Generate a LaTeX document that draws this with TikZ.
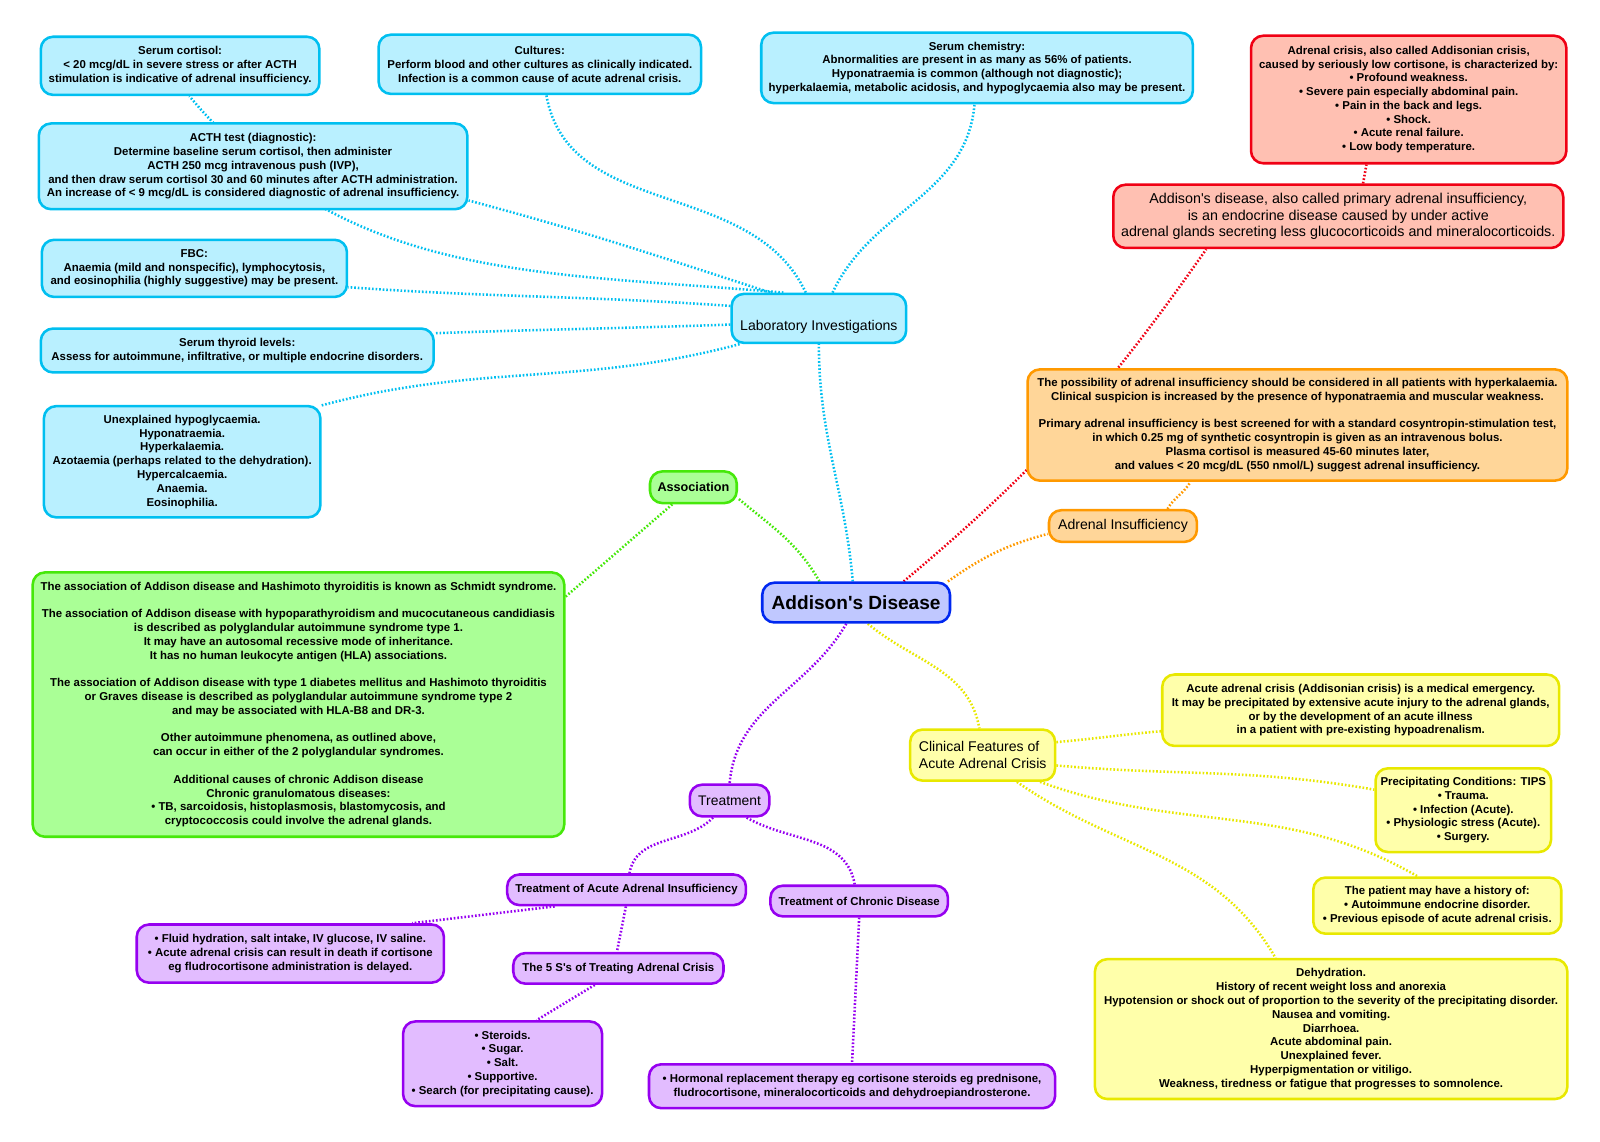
\documentclass[tikz,border=0pt]{standalone}
\usepackage{fontspec}
\setmainfont{Liberation Sans}
\usepackage{tikz}
\usetikzlibrary{backgrounds}

\definecolor{labfill}{RGB}{185,240,255}
\definecolor{labdraw}{RGB}{0,191,240}
\definecolor{assocfill}{RGB}{170,255,150}
\definecolor{assocdraw}{RGB}{70,232,10}
\definecolor{redfill}{RGB}{255,192,178}
\definecolor{reddraw}{RGB}{240,0,20}
\definecolor{orfill}{RGB}{255,214,153}
\definecolor{ordraw}{RGB}{255,153,0}
\definecolor{yelfill}{RGB}{255,255,170}
\definecolor{yeldraw}{RGB}{232,232,0}
\definecolor{purfill}{RGB}{226,188,255}
\definecolor{purdraw}{RGB}{150,0,240}
\definecolor{rootfill}{RGB}{192,200,255}
\definecolor{rootdraw}{RGB}{0,40,240}

\tikzset{
  box/.style={draw, line width=2.5pt, rounded corners=12pt, align=center, inner sep=2pt},
  leaf/.style={font=\bfseries\fontsize{11.2}{13.5}\selectfont},
  hub/.style={font=\fontsize{13.8}{16}\selectfont},
  link/.style={line width=2.5pt, dash pattern=on 1.6pt off 1.9pt},
}

\begin{document}
\begin{tikzpicture}[x=1pt,y=1pt]
        \useasboundingbox (0,0) rectangle (1568,-1119);
        % centre
        \node[box, draw=rootdraw, fill=rootfill, font=\bfseries\fontsize{18.7}{22}\selectfont,
              minimum width=184, minimum height=39] (root) at (839,-590.5) {Addison\textquotesingle s Disease};
        % laboratory investigations
        \begin{scope}[every node/.style={box, leaf, draw=labdraw, fill=labfill}]
          \node[hub, minimum width=171, minimum height=48] (lab) at (802.5,-312) {\rule{0pt}{27pt}Laboratory Investigations};
          \node[minimum width=273, minimum height=57] (cort) at (176.5,-64.5) {Serum cortisol:\\
            < 20 mcg/dL in severe stress or after ACTH\\
            stimulation is indicative of adrenal insufficiency.};
          \node[minimum width=316, minimum height=58] (cult) at (529,-63) {Cultures:\\
            Perform blood and other cultures as clinically indicated.\\
            Infection is a common cause of acute adrenal crisis.};
          \node[minimum width=423, minimum height=69] (chem) at (957.5,-66.5) {Serum chemistry:\\
            Abnormalities are present in as many as 56\% of patients.\\
            Hyponatraemia is common (although not diagnostic);\\
            hyperkalaemia, metabolic acidosis, and hypoglycaemia also may be present.};
          \node[minimum width=420, minimum height=84] (acth) at (248,-163) {ACTH test (diagnostic):\\
            Determine baseline serum cortisol, then administer\\
            ACTH 250 mcg intravenous push (IVP),\\
            and then draw serum cortisol 30 and 60 minutes after ACTH administration.\\
            An increase of < 9 mcg/dL is considered diagnostic of adrenal insufficiency.};
          \node[minimum width=299, minimum height=56] (fbc) at (190.5,-263) {FBC:\\
            Anaemia (mild and nonspecific), lymphocytosis,\\
            and eosinophilia (highly suggestive) may be present.};
          \node[minimum width=385, minimum height=43] (thyr) at (232.5,-343.5) {Serum thyroid levels:\\
            Assess for autoimmune, infiltrative, or multiple endocrine disorders.};
          \node[minimum width=271, minimum height=109] (unexp) at (178.5,-452.5) {Unexplained hypoglycaemia.\\
            Hyponatraemia.\\ Hyperkalaemia.\\
            Azotaemia (perhaps related to the dehydration).\\
            Hypercalcaemia.\\ Anaemia.\\ Eosinophilia.};
        \end{scope}
        % addison's disease definition
        \begin{scope}[every node/.style={box, leaf, draw=reddraw, fill=redfill}]
          \node[font=\fontsize{14}{16}\selectfont, minimum width=441, minimum height=62] (defn) at (1311.5,-212) {Addison\textquotesingle s disease, also called primary adrenal insufficiency,\\
            is an endocrine disease caused by under active\\
            adrenal glands secreting less glucocorticoids and mineralocorticoids.};
          \node[minimum width=309, minimum height=125] (crisis) at (1380.5,-97.5) {Adrenal crisis, also called Addisonian crisis,\\
            caused by seriously low cortisone, is characterized by:\\
            • Profound weakness.\\
            • Severe pain especially abdominal pain.\\
            • Pain in the back and legs.\\
            • Shock.\\
            • Acute renal failure.\\
            • Low body temperature.};
        \end{scope}
        % adrenal insufficiency
        \begin{scope}[every node/.style={box, leaf, draw=ordraw, fill=orfill}]
          \node[hub, minimum width=145, minimum height=31] (adins) at (1100.5,-515.5) {Adrenal Insufficiency};
          \node[minimum width=529, minimum height=109] (poss) at (1271.5,-416.5) {The possibility of adrenal insufficiency should be considered in all patients with hyperkalaemia.\\
            Clinical suspicion is increased by the presence of hyponatraemia and muscular weakness.\\[13.5pt]
            Primary adrenal insufficiency is best screened for with a standard cosyntropin-stimulation test,\\
            in which 0.25 mg of synthetic cosyntropin is given as an intravenous bolus.\\
            Plasma cortisol is measured 45-60 minutes later,\\
            and values < 20 mcg/dL (550 nmol/L) suggest adrenal insufficiency.};
        \end{scope}
        % association
        \begin{scope}[every node/.style={box, leaf, draw=assocdraw, fill=assocfill}]
          \node[font=\bfseries\fontsize{12.4}{15}\selectfont, minimum width=85, minimum height=31] (assoc) at (679.5,-477.5) {Association};
          \node[minimum width=521, minimum height=259] (assocs) at (292.5,-690.5) {The association of Addison disease and Hashimoto thyroiditis is known as Schmidt syndrome.\\[13.5pt]
            The association of Addison disease with hypoparathyroidism and mucocutaneous candidiasis\\
            is described as polyglandular autoimmune syndrome type 1.\\
            It may have an autosomal recessive mode of inheritance.\\
            It has no human leukocyte antigen (HLA) associations.\\[13.5pt]
            The association of Addison disease with type 1 diabetes mellitus and Hashimoto thyroiditis\\
            or Graves disease is described as polyglandular autoimmune syndrome type 2\\
            and may be associated with HLA-B8 and DR-3.\\[13.5pt]
            Other autoimmune phenomena, as outlined above,\\
            can occur in either of the 2 polyglandular syndromes.\\[13.5pt]
            Additional causes of chronic Addison disease\\
            Chronic granulomatous diseases:\\
            • TB, sarcoidosis, histoplasmosis, blastomycosis, and\\
            cryptococcosis could involve the adrenal glands.};
        \end{scope}
        % clinical features
        \begin{scope}[every node/.style={box, leaf, draw=yeldraw, fill=yelfill}]
          \node[hub, align=left, minimum width=142, minimum height=50] (clin) at (963,-740) {Clinical Features of\\Acute Adrenal Crisis};
          \node[minimum width=389, minimum height=70] (acute) at (1333.5,-696) {Acute adrenal crisis (Addisonian crisis) is a medical emergency.\\
            It may be precipitated by extensive acute injury to the adrenal glands,\\
            or by the development of an acute illness\\
            in a patient with pre-existing hypoadrenalism.};
          \node[minimum width=172, minimum height=82] (tips) at (1434,-794) {Precipitating Conditions: TIPS\\
            • Trauma.\\ • Infection (Acute).\\ • Physiologic stress (Acute).\\ • Surgery.};
          \node[minimum width=243, minimum height=55] (hist) at (1408.5,-887.5) {The patient may have a history of:\\
            • Autoimmune endocrine disorder.\\
            • Previous episode of acute adrenal crisis.};
          \node[minimum width=463, minimum height=137] (dehyd) at (1304.5,-1008.5) {Dehydration.\\
            History of recent weight loss and anorexia\\
            Hypotension or shock out of proportion to the severity of the precipitating disorder.\\
            Nausea and vomiting.\\ Diarrhoea.\\ Acute abdominal pain.\\ Unexplained fever.\\
            Hyperpigmentation or vitiligo.\\
            Weakness, tiredness or fatigue that progresses to somnolence.};
        \end{scope}
        % treatment
        \begin{scope}[every node/.style={box, leaf, draw=purdraw, fill=purfill}]
          \node[font=\fontsize{13.6}{16}\selectfont, minimum width=78, minimum height=31] (treat) at (715,-784.5) {Treatment};
          \node[minimum width=234, minimum height=30] (tacute) at (614,-872) {Treatment of Acute Adrenal Insufficiency};
          \node[minimum width=174, minimum height=30] (tchron) at (842,-883) {Treatment of Chronic Disease};
          \node[minimum width=301, minimum height=57] (fluid) at (284.5,-934.5) {• Fluid hydration, salt intake, IV glucose, IV saline.\\
            • Acute adrenal crisis can result in death if cortisone\\
            eg fludrocortisone administration is delayed.};
          \node[minimum width=206, minimum height=30] (fives) at (606,-949) {The 5 S\textquotesingle s of Treating Adrenal Crisis};
          \node[minimum width=195, minimum height=83] (steps) at (492.5,-1042.5) {• Steroids.\\ • Sugar.\\ • Salt.\\ • Supportive.\\
            • Search (for precipitating cause).};
          \node[minimum width=398, minimum height=43] (horm) at (835,-1064.5) {• Hormonal replacement therapy eg cortisone steroids eg prednisone,\\
            fludrocortisone, mineralocorticoids and dehydroepiandrosterone.};
        \end{scope}
        % connectors
        \begin{scope}[on background layer, every edge/.style={link, draw=labdraw}]
          \path (root.99) edge[out=95,in=-90] (lab.south);
          \path (lab.144) edge[out=175,in=-50] (cort.-73);
          \path (lab.152) edge[out=162,in=-15] (acth.-9);
          \path (lab.117) edge[out=115,in=-80] (cult.-78);
          \path (lab.62) edge[out=65,in=-95] (chem.-94);
          \path (lab.172) edge[out=176,in=-4] (fbc.-7);
          \path (lab.184) edge[out=182,in=2] (thyr.5);
          \path (lab.198) edge[out=195,in=15] (unexp.22);
        \end{scope}
        \begin{scope}[on background layer, every edge/.style={link, draw=assocdraw}]
          \path (root.150) edge[out=120,in=-40] (assoc.-14);
          \path (assoc.-141) edge (assocs.22);
        \end{scope}
        \begin{scope}[on background layer, every edge/.style={link, draw=reddraw}]
          \path (root.24) edge[out=40,in=-125] (defn.-166);
          \path (defn.53) edge (crisis.-123);
        \end{scope}
        \begin{scope}[on background layer, every edge/.style={link, draw=ordraw}]
          \path (root.13) edge[out=35,in=-165] (adins.-174);
          \path (adins.21) edge[out=60,in=-120] (poss.-152);
        \end{scope}
        \begin{scope}[on background layer, every edge/.style={link, draw=yeldraw}]
          \path (root.-61) edge[out=-40,in=100] (clin.97);
          \path (clin.10) edge[out=5,in=-175] (acute.-174);
          \path (clin.-8) edge[out=-5,in=170] (tips.167);
          \path (clin.-25) edge[out=-20,in=150] (hist.124);
          \path (clin.-38) edge[out=-35,in=120] (dehyd.128);
        \end{scope}
        \begin{scope}[on background layer, every edge/.style={link, draw=purdraw}]
          \path (root.-115) edge[out=-120,in=85] (treat.north);
          \path (treat.-134) edge[out=-135,in=80] (tacute.80);
          \path (treat.-45) edge[out=-30,in=100] (tchron.105);
          \path (tacute.-167) edge (fluid.14);
          \path (tacute.-92) edge (fives.95);
          \path (fives.-145) edge (steps.52);
          \path (tchron.south) edge (horm.north);
        \end{scope}
      \end{tikzpicture}
\end{document}
